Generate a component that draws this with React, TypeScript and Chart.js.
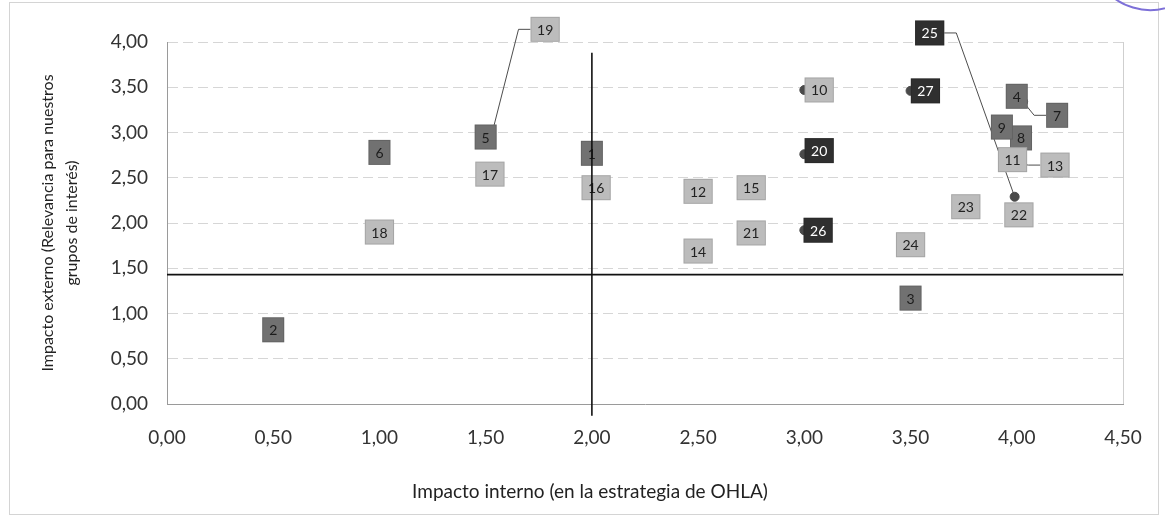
import React, { useEffect, useRef } from "react";
import { Chart, registerables } from "chart.js";

Chart.register(...registerables);

// ---- data ----
const ids = ["1","2","3","4","5","6","7","8","9","10","11","12","13","14","15","16","17","18","19","20","21","22","23","24","25","26","27"];
const xVals = [2.0, 0.5, 3.5, 4.0, 1.5, 1.0, 4.03, 4.02, 3.93, 3.0, 3.98, 2.5, 4.02, 2.5, 2.75, 2.02, 1.52, 1.0, 1.52, 3.0, 2.75, 4.01, 3.76, 3.5, 3.99, 3.0, 3.5];
const yVals = [2.77, 0.82, 1.17, 3.4, 2.95, 2.78, 3.34, 2.94, 3.06, 3.47, 2.7, 2.35, 2.65, 1.69, 2.39, 2.39, 2.54, 1.9, 2.9, 2.76, 1.89, 2.09, 2.18, 1.76, 2.29, 1.92, 3.46];
// 0 = alta, 1 = media, 2 = baja
const tiers = [1,1,1,1,1,1,1,1,1,2,2,2,2,2,2,2,2,2,2,0,2,2,2,2,0,0,0];
// label positions (data units) where the label sits away from its point
const labelX: (number | null)[] = [null,null,null,null,null,null,4.19,null,null,3.07,null,null,4.18,null,null,null,null,null,1.78,3.07,null,null,null,null,3.59,3.065,3.57];
const labelY: (number | null)[] = [null,null,null,null,null,null,3.19,null,null,null,null,null,2.64,null,null,null,null,null,4.14,2.8,null,null,null,null,4.1,null,null];
// reference lines
const refVX = [2.0, 2.0];
const refVY = [-0.13, 3.88];
const refHX = [0, 4.5];
const refHY = [1.43, 1.43];

const xTitle = "Impacto interno (en la estrategia de OHLA)";
const yTitle = ["Impacto externo (Relevancia para nuestros", "grupos de interés)"];

const boxFill = ["#2f2f2f", "#717171", "#bcbcbc"];
const boxText = ["#ffffff", "#1c1c1c", "#222222"];

const fmt = (v: number | string) => Number(v).toFixed(2).replace(".", ",");

const labelsPlugin = {
  id: "boxLabels",
  afterDatasetDraw(chart: any, args: any) {
    if (args.index !== 0) return;
    const { ctx, scales } = chart;
    const meta = chart.getDatasetMeta(0);
    ctx.save();
    ctx.font = "14px Lato";
    ctx.textAlign = "center";
    ctx.textBaseline = "middle";
    const boxes = ids.map((t, i) => {
      const pt = meta.data[i];
      const lx = labelX[i] != null ? scales.x.getPixelForValue(labelX[i]) : pt.x;
      const ly = labelY[i] != null ? scales.y.getPixelForValue(labelY[i]) : pt.y;
      const w = Math.max(22, ctx.measureText(t).width + 13);
      return { t, i, px: pt.x, py: pt.y, lx, ly, w, h: 25 };
    });
    // leader lines
    ctx.strokeStyle = "#4d4d4d";
    ctx.lineWidth = 1;
    boxes.forEach((b) => {
      if (labelX[b.i] == null) return;
      const right = b.lx > b.px;
      const edge = right ? b.lx - b.w / 2 : b.lx + b.w / 2;
      const gap = right ? edge - b.px : b.px - edge;
      if (gap <= 8 && Math.abs(b.ly - b.py) < 20) return;
      const stub = right ? edge - 12 : edge + 12;
      ctx.beginPath();
      ctx.moveTo(b.px, b.py);
      ctx.lineTo(stub, b.ly);
      ctx.lineTo(edge, b.ly);
      ctx.stroke();
    });
    // boxes
    boxes.forEach((b) => {
      const tr = tiers[b.i];
      ctx.fillStyle = boxFill[tr];
      ctx.fillRect(b.lx - b.w / 2, b.ly - b.h / 2, b.w, b.h);
      ctx.strokeStyle = "rgba(0,0,0,0.12)";
      ctx.strokeRect(b.lx - b.w / 2 + 0.5, b.ly - b.h / 2 + 0.5, b.w - 1, b.h - 1);
      ctx.fillStyle = boxText[tr];
      ctx.fillText(b.t, b.lx, b.ly + 1);
    });
    ctx.restore();
  },
  beforeDraw(chart: any) {
    const { ctx, width, height } = chart;
    ctx.save();
    ctx.fillStyle = "#ffffff";
    ctx.fillRect(0, 0, width, height);
    ctx.restore();
  },
  afterDraw(chart: any) {
    const { ctx, chartArea } = chart;
    ctx.save();
    // plot area right edge
    ctx.strokeStyle = "#cfcfcf";
    ctx.lineWidth = 1;
    ctx.beginPath();
    ctx.moveTo(chartArea.right + 0.5, chartArea.top);
    ctx.lineTo(chartArea.right + 0.5, chartArea.bottom);
    ctx.stroke();
    // x-axis title (centred on the whole chart, as in the original)
    ctx.fillStyle = "#222222";
    ctx.font = "19px Lato";
    ctx.textAlign = "center";
    ctx.textBaseline = "middle";
    ctx.fillText(xTitle, 590, 492);
    // outer chart border
    ctx.strokeStyle = "#d4d4d4";
    ctx.strokeRect(9.5, 2.5, 1149, 512);
    // hand-drawn mark at the corner
    ctx.strokeStyle = "#7d70d8";
    ctx.lineWidth = 2;
    ctx.beginPath();
    ctx.ellipse(1150, -40, 55, 50, 0, Math.PI * 0.35, Math.PI * 0.95);
    ctx.stroke();
    ctx.restore();
  },
};

export default function App() {
  const ref = useRef<HTMLCanvasElement | null>(null);
  useEffect(() => {
    if (!ref.current) return;
    const chart = new Chart(ref.current, {
      type: "scatter",
      data: {
        datasets: [
          {
            label: "Asuntos",
            data: xVals.map((x, i) => ({ x, y: yVals[i] })),
            pointRadius: 4.5,
            pointBackgroundColor: "#4a4a4a",
            pointBorderColor: "#4a4a4a",
            order: 3,
          },
          {
            label: "Media X",
            data: refVX.map((x, i) => ({ x, y: refVY[i] })),
            showLine: true,
            pointRadius: 0,
            borderColor: "#111111",
            borderWidth: 1.6,
            clip: false as any,
            order: 1,
          },
          {
            label: "Media Y",
            data: refHX.map((x, i) => ({ x, y: refHY[i] })),
            showLine: true,
            pointRadius: 0,
            borderColor: "#111111",
            borderWidth: 1.6,
            clip: false as any,
            order: 2,
          },
        ],
      },
      options: {
        responsive: false,
        animation: false,
        devicePixelRatio: 1,
        layout: { padding: { left: 0, right: 42, top: 42, bottom: 0 } },
        plugins: { legend: { display: false }, tooltip: { enabled: false } },
        scales: {
          x: {
            type: "linear",
            min: 0,
            max: 4.5,
            ticks: {
              stepSize: 0.5,
              callback: (v: any) => fmt(v),
              font: { family: "Lato", size: 19 },
              color: "#333333",
              padding: 22,
              maxRotation: 0,
            },
            grid: { display: false, drawTicks: false },
            border: { display: true, color: "#9a9a9a", width: 1 },
            title: { display: false, text: xTitle },
            afterFit: (s: any) => {
              s.height = 115;
            },
          },
          y: {
            type: "linear",
            min: 0,
            max: 4,
            ticks: {
              stepSize: 0.5,
              callback: (v: any) => fmt(v),
              font: { family: "Lato", size: 19 },
              color: "#333333",
              padding: 19,
            },
            grid: { color: "#d6d6d6", drawTicks: false, lineWidth: 1 },
            border: { display: true, color: "#9a9a9a", width: 1, dash: [10, 5] },
            title: {
              display: true,
              text: yTitle,
              font: { family: "Lato", size: 16, lineHeight: 1.55 },
              color: "#222222",
              padding: { top: 35, bottom: 0 },
            },
            afterFit: (s: any) => {
              s.width = 167;
            },
          },
        },
      },
      plugins: [labelsPlugin],
    } as any);
    return () => chart.destroy();
  }, []);
  return (
    <div style={{ position: "absolute", left: 0, top: 0, width: 1165, height: 519 }}>
      <canvas ref={ref} width={1165} height={519} style={{ display: "block" }} />
    </div>
  );
}
